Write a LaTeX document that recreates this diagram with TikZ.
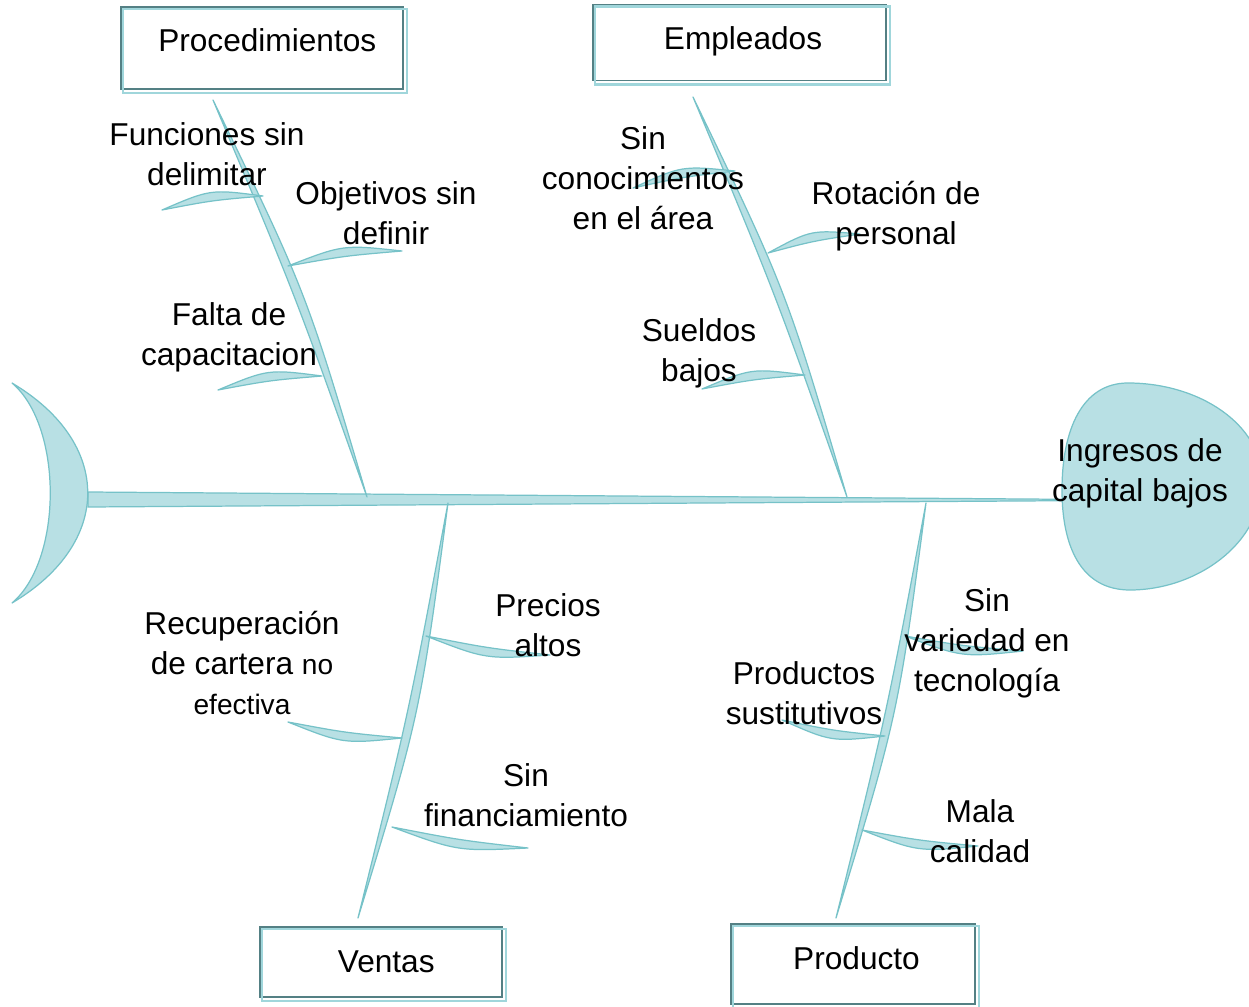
\documentclass[tikz,border=0pt]{standalone}
\usepackage{fontspec}
\setmainfont{Liberation Sans}
\usetikzlibrary{calc}
\definecolor{fishfill}{RGB}{184,224,228}
\definecolor{fishline}{RGB}{118,194,200}
\definecolor{boxdark}{RGB}{84,128,132}
\definecolor{boxshade}{RGB}{160,214,219}
\newcommand{\causefont}{\fontsize{18}{22.7}\selectfont}
\newcommand{\minorfont}{\fontsize{16}{22.7}\selectfont}
\newcommand{\leaf}[4]{%
  \filldraw[bone] (#1) .. controls ($(#1)!0.5!(#2)!#3!90:(#2)$) .. (#2)
    .. controls ($(#1)!0.5!(#2)!#4!90:(#2)$) .. (#1) -- cycle;}

\begin{document}
\begin{tikzpicture}[
    x=0.02cm, y=-0.02cm,
    bone/.style={draw=fishline, fill=fishfill, line width=0.7pt, line join=round},
    catbox/.style={draw=boxdark, line width=0.9pt, inner sep=0pt,
                   text height=0.9cm, font=\causefont},
    shade/.style={draw=boxshade, line width=1.4pt},
    cause/.style={align=center, inner sep=0pt, font=\causefont},
  ]
    \useasboundingbox (0,0) rectangle (1249,1007);
    \clip (0,0) rectangle (1249,1007);

    \coordinate (tail) at (88,500);
    \coordinate (head) at (1064,500);
    \filldraw[bone] ($(tail)+(0,-8)$) -- ($(head)+(0,-0.7)$) -- ($(head)+(0,0.7)$)
      -- ($(tail)+(0,7)$) -- cycle;

    \coordinate (proctop) at (213,100);  \coordinate (procend) at (367,497);
    \coordinate (empltop) at (693,97);   \coordinate (emplend) at (847,497);
    \coordinate (ventop) at (448,503);   \coordinate (venend) at (358,918);
    \coordinate (prodtop) at (926,503);  \coordinate (prodend) at (836,918);
    \leaf{proctop}{procend}{10pt}{3.5pt}
    \leaf{empltop}{emplend}{10pt}{3.5pt}
    \leaf{ventop}{venend}{10pt}{3.5pt}
    \leaf{prodtop}{prodend}{10pt}{3.5pt}

    \leaf{263,196}{162,210}{-8pt}{-1.5pt}
    \leaf{288,266}{402,251}{8pt}{1.5pt}
    \leaf{322,376}{218,390}{-8pt}{-1.5pt}
    \leaf{735,171}{633,188}{-8pt}{-1.5pt}
    \leaf{768,253}{860,234}{8pt}{1.5pt}
    \leaf{805,375}{702,389}{-8pt}{-1.5pt}
    \leaf{426,636}{550,655}{-8pt}{-1.5pt}
    \leaf{402,738}{288,722}{8pt}{1.5pt}
    \leaf{392,827}{528,848}{-8pt}{-1.5pt}
    \leaf{905,636}{1023,651}{-8pt}{-1.5pt}
    \leaf{885,736}{782,720}{8pt}{1.5pt}
    \leaf{862,830}{978,846}{-8pt}{-1.5pt}

    \filldraw[bone] (12,383) .. controls (113,443) and (113,543) .. (12,603)
      .. controls (63,560) and (63,426) .. (12,383) -- cycle;
    \filldraw[bone] (1128,383) .. controls (1200,383) and (1262,425) .. (1262,480)
      .. controls (1262,545) and (1195,590) .. (1130,590)
      .. controls (1080,590) and (1062,545) .. (1062,490)
      .. controls (1062,430) and (1082,383) .. (1128,383) -- cycle;

    \node[catbox, minimum width=5.64cm, text depth=0.74cm] (proc) at (262,48) {\hspace{6pt}Procedimientos};
    \node[catbox, minimum width=5.86cm, text depth=0.62cm] (empl) at (739.5,42.5) {\hspace{4pt}Empleados};
    \node[catbox, minimum width=4.84cm, text depth=0.5cm] (vent) at (381,962) {\hspace{6pt}Ventas};
    \node[catbox, minimum width=4.88cm, text depth=0.7cm] (prod) at (853,964) {\hspace{4pt}Producto};
    \foreach \b in {proc, empl, vent, prod}
      \draw[shade] ([shift={(3,3)}]\b.north west) rectangle ([shift={(3,3)}]\b.south east);

    \node[cause] (fun) at (207,154) {Funciones sin\\delimitar};
    \node[cause] (obj) at (386,213) {Objetivos sin\\definir};
    \node[cause] (fal) at (229,337) {Falta de\\capacitacion};
    \node[cause] (con) at (643,178) {Sin\\conocimientos\\en el área};
    \node[cause] (rot) at (896,216) {Rotación de\\personal};
    \node[cause] (sue) at (699,353) {Sueldos\\bajos};
    \node[cause] (pre) at (548,625) {Precios\\altos};
    \node[cause] (rec) at (242,663) {Recuperación\\de cartera {\minorfont no}\\{\minorfont efectiva}};
    \node[cause] (fin) at (526,795) {Sin\\financiamiento};
    \node[cause] (var) at (987,643) {Sin\\variedad en\\tecnología};
    \node[cause] (sus) at (804,693) {Productos\\sustitutivos};
    \node[cause] (mal) at (980,831) {Mala\\calidad};
    \node[cause] (ing) at (1140,473) {Ingresos de\\capital bajos};
  \end{tikzpicture}
\end{document}
